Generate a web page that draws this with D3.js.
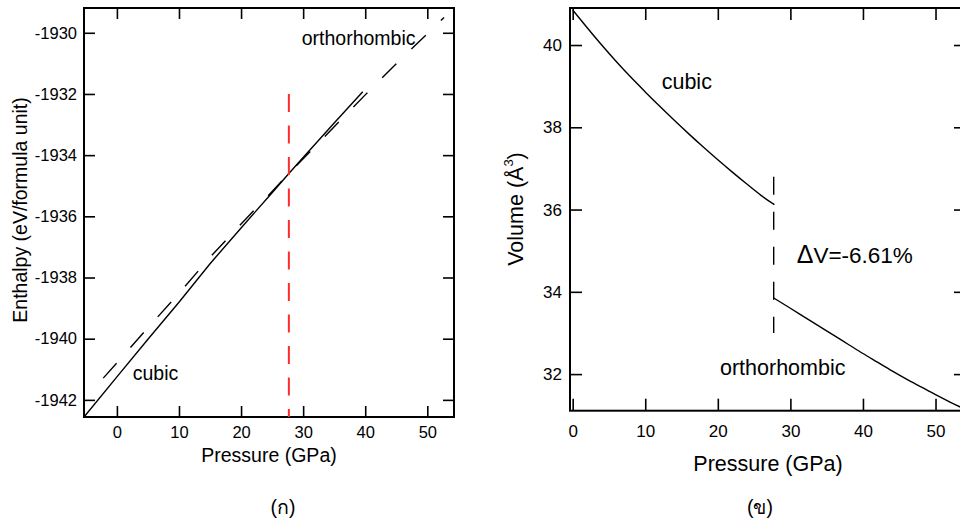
<!DOCTYPE html>
<html>
<head>
<meta charset="utf-8">
<script src="https://cdn.jsdelivr.net/npm/d3@7"></script>
<style>
  body { margin: 0; background: #fff; }
  svg { font-family: "Liberation Sans", Arial, sans-serif; }
  .tick text { fill: #000; }
</style>
</head>
<body>
<div id="chart"></div>
<script>
/*============================
==DATA =======================*/
// (a) enthalpy vs pressure
var pressCubicH   = [-5.3, 0, 5, 10, 15, 20, 25, 27.7, 30, 35, 39.6];
var enthalpyCubic = [-1942.56, -1941.25, -1940.02, -1938.81, -1937.55, -1936.38, -1935.23, -1934.6, -1934.08, -1932.95, -1931.93];
var pressOrthoH   = [-2.2, 0, 5, 10, 15, 20, 25, 27.7, 30, 35, 40, 45, 50, 52.7];
var enthalpyOrtho = [-1941.29, -1940.79, -1939.64, -1938.52, -1937.34, -1936.25, -1935.19, -1934.6, -1934.12, -1933.07, -1932.03, -1931.01, -1930.03, -1929.5];

// (b) volume vs pressure
var pressCubicV  = [0, 2, 4, 6, 8, 10, 12, 14, 16, 18, 20, 22, 24, 26, 27.8];
var volumeCubic  = [40.85, 40.42, 40.0, 39.6, 39.22, 38.86, 38.51, 38.17, 37.84, 37.52, 37.21, 36.91, 36.62, 36.34, 36.12];
var pressOrthoV  = [27.7, 30, 32, 34, 36, 38, 40, 42, 44, 46, 48, 50, 52, 54];
var volumeOrtho  = [33.85, 33.6, 33.38, 33.16, 32.94, 32.72, 32.5, 32.29, 32.08, 31.88, 31.69, 31.5, 31.32, 31.15];

// transition pressure and marker extents
var transitionP    = 27.7;
var enthalpyMarker = [-1932, -1942.56];
var volumeMarker   = [36.8, 33.0];

// ticks
var pressTicks    = [0, 10, 20, 30, 40, 50];
var enthalpyTicks = [-1942, -1940, -1938, -1936, -1934, -1932, -1930];
var volumeTicks   = [32, 34, 36, 38, 40];

/*=============================
===SVG ELEMENT ================*/
var svg = d3.select("#chart")
  .append("svg")
  .attr("width", 960)
  .attr("height", 525);

function zip(xs, ys) {
  return xs.map((x, i) => [x, ys[i]]);
}

// draws frame + inward ticks on all four sides
function drawFrame(g, x, y, xTicks, yTicks, tickLen, pad, fontSize) {
  var x0 = x.range()[0], x1 = x.range()[1];
  var y0 = y.range()[0], y1 = y.range()[1];

  var bottom = g.append("g")
    .attr("transform", `translate(0,${y0})`)
    .call(d3.axisBottom(x).tickValues(xTicks).tickSize(-tickLen).tickPadding(pad.x).tickFormat(d => String(d)));
  var top = g.append("g")
    .attr("transform", `translate(0,${y1})`)
    .call(d3.axisTop(x).tickValues(xTicks).tickSize(-tickLen).tickFormat(""));
  var left = g.append("g")
    .attr("transform", `translate(${x0},0)`)
    .call(d3.axisLeft(y).tickValues(yTicks).tickSize(-tickLen).tickPadding(pad.y).tickFormat(d => String(d)));
  var right = g.append("g")
    .attr("transform", `translate(${x1},0)`)
    .call(d3.axisRight(y).tickValues(yTicks).tickSize(-tickLen).tickFormat(""));

  [bottom, top, left, right].forEach(a => {
    a.select(".domain").remove();
    a.selectAll(".tick line").attr("stroke", "#000").attr("stroke-width", 1.6);
    a.selectAll(".tick text").attr("font-size", fontSize).attr("font-family", "Liberation Sans, Arial, sans-serif");
  });

  g.append("rect")
    .attr("x", x0).attr("y", y1)
    .attr("width", x1 - x0).attr("height", y0 - y1)
    .attr("fill", "none")
    .attr("stroke", "#000")
    .attr("stroke-width", 2);
}

/*=============================
===PANEL (a) ENTHALPY =========*/
var xA = d3.scaleLinear().domain([-5.3, 54.3]).range([84, 454]);
var yA = d3.scaleLinear().domain([-1942.56, -1929.19]).range([417, 8]);

var gA = svg.append("g");
drawFrame(gA, xA, yA, pressTicks, enthalpyTicks, 11, {x: 9, y: 7}, 16.5);

var lineA = d3.line().x(d => xA(d[0])).y(d => yA(d[1]));

gA.append("path")
  .datum(zip(pressCubicH, enthalpyCubic))
  .attr("d", lineA)
  .attr("fill", "none")
  .attr("stroke", "#000")
  .attr("stroke-width", 1.4);

gA.append("path")
  .datum(zip(pressOrthoH, enthalpyOrtho))
  .attr("d", lineA)
  .attr("fill", "none")
  .attr("stroke", "#000")
  .attr("stroke-width", 1.4)
  .attr("stroke-dasharray", "20,21");

gA.append("line")
  .attr("x1", xA(transitionP)).attr("x2", xA(transitionP))
  .attr("y1", yA(enthalpyMarker[0])).attr("y2", yA(enthalpyMarker[1]))
  .attr("stroke", "#ff2b2b")
  .attr("stroke-width", 2)
  .attr("stroke-dasharray", "18,13.5");

gA.append("text").attr("x", 301.7).attr("y", 45).attr("font-size", 19.5).text("orthorhombic");
gA.append("text").attr("x", 132.7).attr("y", 380).attr("font-size", 19.5).text("cubic");
gA.append("text").attr("x", 269).attr("y", 462).attr("font-size", 19.5)
  .attr("text-anchor", "middle").text("Pressure (GPa)");
gA.append("text")
  .attr("transform", "translate(26.5,210) rotate(-90)")
  .attr("font-size", 19.5)
  .attr("text-anchor", "middle")
  .text("Enthalpy (eV/formula unit)");
gA.append("text").attr("x", 283).attr("y", 514).attr("font-size", 19.5)
  .attr("text-anchor", "middle").text("(ก)");

/*=============================
===PANEL (b) VOLUME ===========*/
var xB = d3.scaleLinear().domain([-0.37, 54.2]).range([570, 966]);
var yB = d3.scaleLinear().domain([31.11, 40.9]).range([410.7, 8]);

var gB = svg.append("g");
drawFrame(gB, xB, yB, pressTicks, volumeTicks, 12, {x: 14, y: 8}, 17);

var lineB = d3.line().x(d => xB(d[0])).y(d => yB(d[1])).curve(d3.curveMonotoneX);

gB.append("path")
  .datum(zip(pressCubicV, volumeCubic))
  .attr("d", lineB)
  .attr("fill", "none")
  .attr("stroke", "#000")
  .attr("stroke-width", 1.4);

gB.append("path")
  .datum(zip(pressOrthoV, volumeOrtho))
  .attr("d", lineB)
  .attr("fill", "none")
  .attr("stroke", "#000")
  .attr("stroke-width", 1.4);

gB.append("line")
  .attr("x1", xB(transitionP)).attr("x2", xB(transitionP))
  .attr("y1", yB(volumeMarker[0])).attr("y2", yB(volumeMarker[1]))
  .attr("stroke", "#000")
  .attr("stroke-width", 1.4)
  .attr("stroke-dasharray", "18,17");

gB.append("text").attr("x", 661.7).attr("y", 89).attr("font-size", 21.5).text("cubic");
gB.append("text").attr("x", 720).attr("y", 375).attr("font-size", 21.5).text("orthorhombic");
gB.append("text").attr("x", 768).attr("y", 471).attr("font-size", 21.5)
  .attr("text-anchor", "middle").text("Pressure (GPa)");

var dv = gB.append("text").attr("x", 796.7).attr("y", 263).attr("font-size", 22.5);
dv.append("tspan").attr("font-size", 25).text("Δ");
dv.append("tspan").text("V=-6.61%");

var vt = gB.append("text")
  .attr("transform", "translate(523,209) rotate(-90)")
  .attr("font-size", 21.5)
  .attr("text-anchor", "middle");
vt.append("tspan").text("Volume (Å");
vt.append("tspan").attr("font-size", 13).attr("dy", -10).text("3");
vt.append("tspan").attr("dy", 10).text(")");

gB.append("text").attr("x", 760).attr("y", 514).attr("font-size", 19.5)
  .attr("text-anchor", "middle").text("(ข)");
</script>
</body>
</html>
